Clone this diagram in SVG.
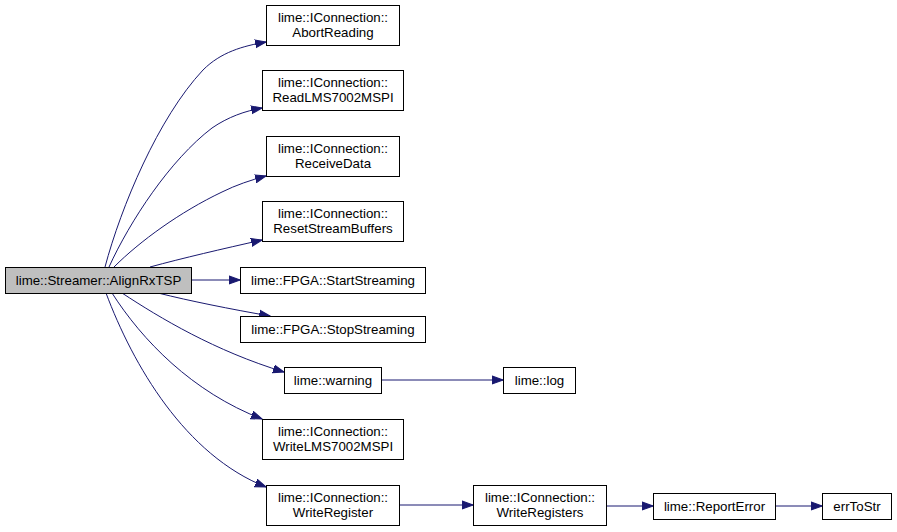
<svg xmlns="http://www.w3.org/2000/svg" width="897" height="532" viewBox="0 0 897 532">
<style>
.n rect{fill:#ffffff;stroke:#000000;stroke-width:1}
.root rect{fill:#bfbfbf}
text{font-family:"Liberation Sans",Arial,Helvetica,sans-serif;font-size:13.3px;fill:#000000;text-anchor:middle}
.e path{fill:none;stroke:#191970;stroke-width:1;marker-end:url(#ah)}
</style>
<defs>
<marker id="ah" markerUnits="userSpaceOnUse" markerWidth="12" markerHeight="10" viewBox="0 -4 11 8" refX="10" refY="0" orient="auto">
<path d="M0,-3.6 L10,0 L0,3.6 z" fill="#191970" stroke="#191970" stroke-width="1"/>
</marker>
</defs>
<rect width="897" height="532" fill="#ffffff"/>
<g id="edges" class="e">
<path d="M105,267 C121,207 158,118 203,70 C221,52 243,46 266,42"/>
<path d="M109,267 C130,221 170,160 212,128 C228,117 245,111 262,108"/>
<path d="M114,267 C140,241 180,212 222,192 C236,185 251,180 266,176"/>
<path d="M150,267 C183,258 222,249 262,240"/>
<path d="M191,280 L240,280"/>
<path d="M158,293 C190,301 230,309 270,316"/>
<path d="M122,293 C160,318 215,351 284,372"/>
<path d="M112,293 C142,340 192,392 262,419"/>
<path d="M106,293 C133,365 185,455 266,487"/>
<path d="M381,380 L503,380"/>
<path d="M399,505 L473,505"/>
<path d="M606,506 L653,506"/>
<path d="M775,506 L822,506"/>
</g>
<g id="n_root" class="n root"><rect x="5.5" y="267.5" width="186" height="26"/><text x="98.5" y="285">lime::Streamer::AlignRxTSP</text></g>
<g id="n_abort" class="n"><rect x="266.5" y="5.5" width="133" height="40"/><text x="333" y="22">lime::IConnection::</text><text x="333" y="37">AbortReading</text></g>
<g id="n_readlms" class="n"><rect x="262.5" y="70.5" width="141" height="40"/><text x="333" y="87">lime::IConnection::</text><text x="333" y="102">ReadLMS7002MSPI</text></g>
<g id="n_receive" class="n"><rect x="266.5" y="136.5" width="133" height="40"/><text x="333" y="153">lime::IConnection::</text><text x="333" y="168">ReceiveData</text></g>
<g id="n_reset" class="n"><rect x="262.5" y="201.5" width="141" height="40"/><text x="333" y="218">lime::IConnection::</text><text x="333" y="233">ResetStreamBuffers</text></g>
<g id="n_start" class="n"><rect x="240.5" y="267.5" width="185" height="26"/><text x="333" y="285">lime::FPGA::StartStreaming</text></g>
<g id="n_stop" class="n"><rect x="240.5" y="316.5" width="185" height="26"/><text x="333" y="334">lime::FPGA::StopStreaming</text></g>
<g id="n_warning" class="n"><rect x="284.5" y="367.5" width="97" height="26"/><text x="333" y="385">lime::warning</text></g>
<g id="n_writelms" class="n"><rect x="262.5" y="419.5" width="141" height="40"/><text x="333" y="436">lime::IConnection::</text><text x="333" y="451">WriteLMS7002MSPI</text></g>
<g id="n_writereg" class="n"><rect x="266.5" y="485.5" width="133" height="40"/><text x="333" y="502">lime::IConnection::</text><text x="333" y="517">WriteRegister</text></g>
<g id="n_log" class="n"><rect x="503.5" y="367.5" width="72" height="26"/><text x="539.5" y="385">lime::log</text></g>
<g id="n_writeregs" class="n"><rect x="473.5" y="485.5" width="133" height="40"/><text x="540" y="502">lime::IConnection::</text><text x="540" y="517">WriteRegisters</text></g>
<g id="n_report" class="n"><rect x="653.5" y="493.5" width="122" height="26"/><text x="714.5" y="511">lime::ReportError</text></g>
<g id="n_errtostr" class="n"><rect x="822.5" y="493.5" width="69" height="26"/><text x="857" y="511">errToStr</text></g>
</svg>
